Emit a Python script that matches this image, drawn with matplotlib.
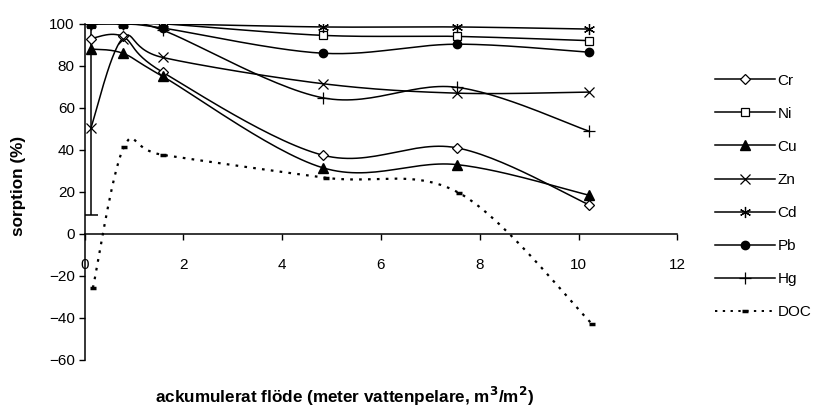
import numpy as np
import matplotlib.pyplot as plt
from matplotlib.lines import Line2D

plt.rcParams['font.family'] = ['Liberation Sans', 'DejaVu Sans']

# accumulated flow (m3/m2) at each sampling
flow = [0.13, 0.77, 1.58, 4.82, 7.53, 10.2]
flow_doc = [0.17, 0.80, 1.59, 4.89, 7.58, 10.27]

cr = [93, 94, 77, 37.5, 41, 14]
ni = [100, 100, 100, 94.5, 94, 92]
cu = [88, 86, 75, 31.5, 33, 18.5]
zn = [50.5, 93, 84, 71.5, 67, 67.5]
cd = [100, 100, 100, 98.5, 98.5, 97.5]
pb = [100, 100, 98, 86, 90.3, 86.5]
hg = [100, 100, 97, 64.8, 69.8, 49]
doc = [-25.7, 41.4, 37.6, 26.7, 19.5, -42.8]

# spread on the first Zn value
zn_err_low = 41.3
zn_err_high = 49.5


def smooth(x, y, n=30):
    # Bezier smoothing through all points, like a spreadsheet "smoothed line"
    p = np.column_stack([x, y]).astype(float)
    p_ext = np.vstack([p[0], p, p[-1]])
    out = []
    t = np.linspace(0, 1, n)[:, None]
    for i in range(len(p) - 1):
        p0, p1, p2, p3 = p_ext[i], p_ext[i + 1], p_ext[i + 2], p_ext[i + 3]
        c1 = p1 + (p2 - p0) / 6
        c2 = p2 - (p3 - p1) / 6
        seg = ((1 - t) ** 3) * p1 + 3 * ((1 - t) ** 2) * t * c1 + 3 * (1 - t) * t ** 2 * c2 + t ** 3 * p2
        out.append(seg if i == 0 else seg[1:])
    out = np.vstack(out)
    return out[:, 0], out[:, 1]


fig = plt.figure(figsize=(8.22, 4.07), dpi=100)
ax = fig.add_axes([0.1028, 0.1155, 0.7214, 0.826])

series = [
    ('Cr', cr, dict(marker='D', ms=5, mfc='white', mec='black', mew=0.9)),
    ('Ni', ni, dict(marker='s', ms=5.5, mfc='white', mec='black', mew=0.9)),
    ('Cu', cu, dict(marker='^', ms=7, mfc='black', mec='black')),
    ('Zn', zn, dict(marker='x', ms=7, mec='black', mew=0.9)),
    ('Cd', cd, dict(marker=(6, 2, 0), ms=8, mec='black', mew=0.9)),
    ('Pb', pb, dict(marker='o', ms=6, mfc='black', mec='black')),
    ('Hg', hg, dict(marker='+', ms=8, mec='black', mew=0.9)),
]

handles = []
for name, vals, mk in series:
    sx, sy = smooth(flow, vals)
    ax.plot(sx, sy, color='black', lw=1.1, zorder=3)
    ax.plot(flow, vals, linestyle='none', color='black', zorder=4, **mk)
    handles.append(Line2D([], [], color='black', lw=1.1, label=name, **mk))

ax.errorbar(flow[0], zn[0], yerr=[[zn_err_low], [zn_err_high]], fmt='none',
            ecolor='black', elinewidth=1.1, capsize=5, capthick=1.1, zorder=3)

dsx, dsy = smooth(flow_doc, doc)
ax.plot(dsx, dsy, color='black', lw=1.6, linestyle=(0, (1.2, 2.8)), zorder=3)
ax.plot(flow_doc, doc, linestyle='none', marker='_', ms=5, mew=2.5, color='black', zorder=4)
handles.append(Line2D([], [], color='black', lw=1.4, linestyle=(0, (1.2, 2.8)),
                      marker='_', ms=5, mew=2.5, label='DOC'))

ax.set_xlim(0, 12)
ax.set_ylim(-60, 100)
ax.set_xticks(np.arange(0, 13, 2))
ax.set_yticks(np.arange(-60, 101, 20))

ax.spines['top'].set_visible(False)
ax.spines['right'].set_visible(False)
ax.spines['bottom'].set_position(('data', 0))
ax.spines['left'].set_linewidth(1.1)
ax.spines['bottom'].set_linewidth(1.1)
ax.tick_params(axis='both', direction='out', length=4, width=1.0, labelsize=11)
ax.tick_params(axis='x', pad=13)
ax.tick_params(axis='y', pad=3)

fig.text(0.0225, 0.543, 'sorption (%)', rotation=90, ha='center', va='center',
         fontsize=12.3, fontweight='bold')
fig.text(0.419, 0.01, 'ackumulerat flöde (meter vattenpelare, m$^\\mathbf{3}$/m$^\\mathbf{2}$)',
         ha='center', va='baseline', fontsize=12.3, fontweight='bold')

fig.legend(handles=handles, loc='upper left', bbox_to_anchor=(0.861, 0.838),
           frameon=False, fontsize=11, handlelength=3.9, handletextpad=0.15,
           labelspacing=1.25, borderpad=0, numpoints=1)

fig.savefig('out.png', dpi=100)
